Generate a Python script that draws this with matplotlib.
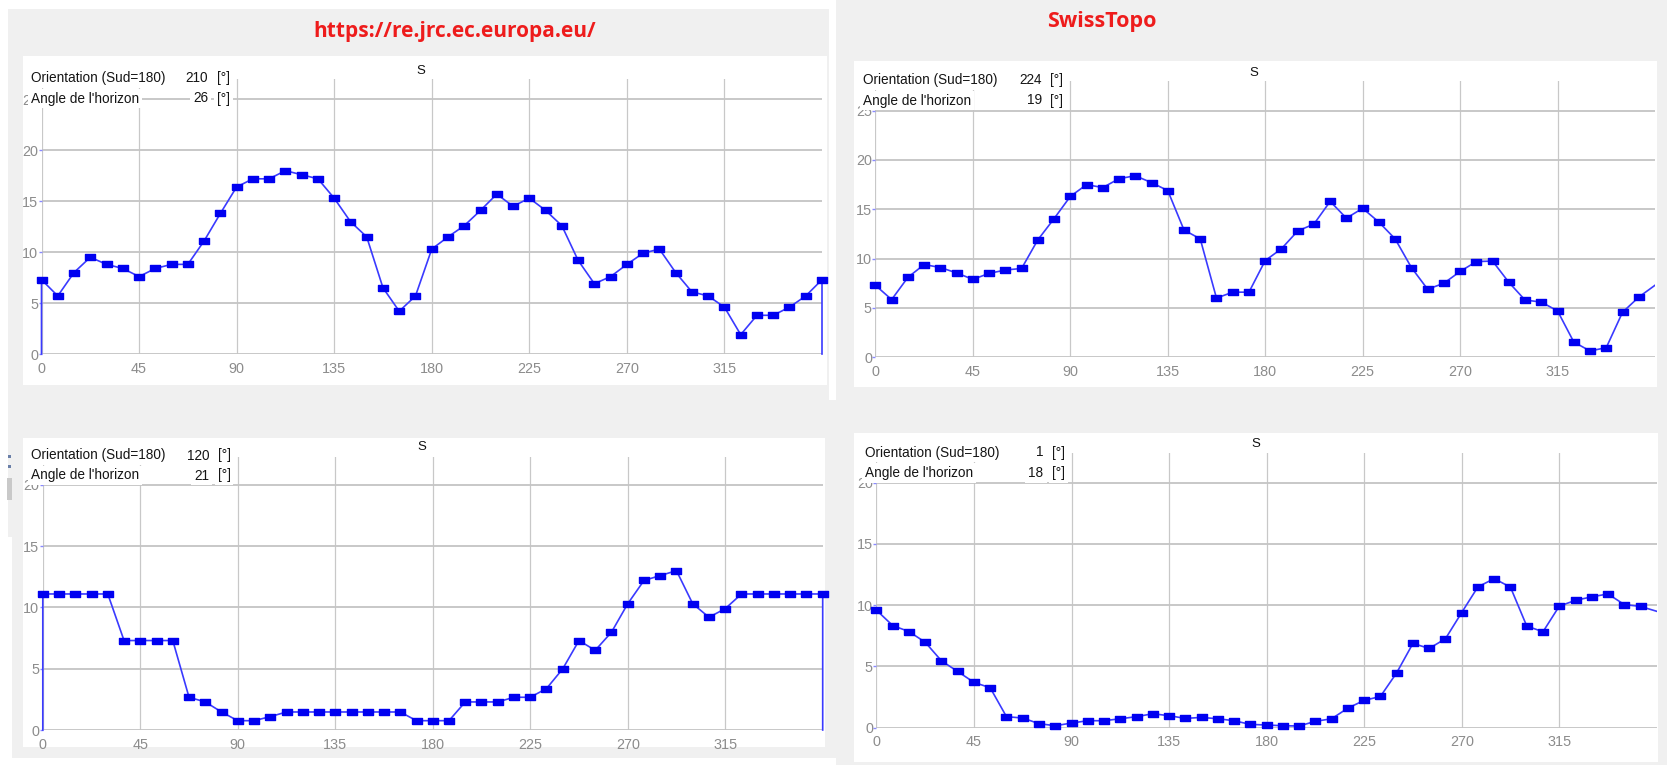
"""
Horizon profiles: PVGIS (re.jrc.ec.europa.eu) vs SwissTopo, two sites.
Each panel shows the horizon elevation angle [deg] against azimuth [deg].
"""

import matplotlib.pyplot as plt
import numpy as np
from matplotlib.patches import Rectangle

W, H = 1667, 765

# azimuth step of the profiles (0 .. 360 inclusive)
AZIMUTH = np.arange(0, 360.1, 7.5)

# site 1 (orientation 210 / 224)
JRC_SITE1 = [7.3, 5.7, 8.0, 9.5, 8.8, 8.4, 7.6, 8.4, 8.8, 8.8, 11.1, 13.8, 16.4,
             17.2, 17.2, 18.0, 17.6, 17.2, 15.3, 13.0, 11.5, 6.5, 4.2, 5.7, 10.3,
             11.5, 12.6, 14.1, 15.7, 14.5, 15.3, 14.1, 12.6, 9.2, 6.9, 7.6, 8.8,
             9.9, 10.3, 8.0, 6.1, 5.7, 4.6, 1.9, 3.8, 3.8, 4.6, 5.7, 7.3]
SWISS_SITE1 = [7.3, 5.85, 8.1, 9.4, 9.1, 8.55, 7.9, 8.5, 8.85, 9.0, 11.9, 14.05,
               16.3, 17.5, 17.2, 18.1, 18.4, 17.7, 16.9, 12.9, 12.0, 6.0, 6.6, 6.6,
               9.8, 11.0, 12.8, 13.5, 15.8, 14.1, 15.1, 13.7, 12.0, 9.1, 6.9, 7.5,
               8.7, 9.7, 9.75, 7.6, 5.8, 5.6, 4.7, 1.55, 0.64, 0.98, 4.56, 6.1, 7.3]

# site 2 (orientation 120 / 1)
JRC_SITE2 = [11.1, 11.1, 11.1, 11.1, 11.1, 7.3, 7.3, 7.3, 7.3, 2.67, 2.29, 1.47,
             0.76, 0.76, 1.09, 1.47, 1.47, 1.47, 1.47, 1.47, 1.47, 1.47, 1.47,
             0.76, 0.76, 0.76, 2.29, 2.29, 2.29, 2.67, 2.67, 3.38, 4.99, 7.3, 6.5,
             7.98, 10.3, 12.2, 12.6, 13.0, 10.3, 9.2, 9.9, 11.1, 11.1, 11.1, 11.1,
             11.1, 11.1]
SWISS_SITE2 = [9.6, 8.34, 7.85, 6.98, 5.46, 4.59, 3.7, 3.26, 0.9, 0.79, 0.33, 0.16,
               0.38, 0.57, 0.57, 0.73, 0.9, 1.14, 0.98, 0.76, 0.84, 0.73, 0.57,
               0.27, 0.22, 0.16, 0.14, 0.52, 0.73, 1.6, 2.23, 2.55, 4.48, 6.88,
               6.47, 7.26, 9.4, 11.5, 12.17, 11.47, 8.3, 7.83, 9.92, 10.4, 10.68,
               10.92, 10.05, 9.9, 9.5]

X_TICKS = [0, 45, 90, 135, 180, 225, 270, 315]

# (orientation, horizon angle) printed in each panel header
INFO = {
    "jrc1": (210, 26),
    "swiss1": (224, 19),
    "jrc2": (120, 21),
    "swiss2": (1, 18),
}

LINE_COLOR = "#3a3aff"
MARKER_COLOR = "#0000f0"
GRID_COLOR = "#c8c8c8"
TICK_COLOR = "#8c8c8c"

# wide flat square used by the profile viewer
RECT_MARKER = [(-1, -0.72), (1, -0.72), (1, 0.72), (-1, 0.72), (-1, -0.72)]

plt.rcParams["font.family"] = ["Liberation Sans", "DejaVu Sans"]


def fx(x):
    return x / W


def fy(y):
    return 1 - y / H


def px_axes(fig, left, top, right, bottom):
    return fig.add_axes([fx(left), fy(bottom), (right - left) / W, (bottom - top) / H])


def px_rect(fig, left, top, right, bottom, color, z=-1):
    fig.patches.append(
        Rectangle((fx(left), fy(bottom)), (right - left) / W, (bottom - top) / H,
                  transform=fig.transFigure, facecolor=color, edgecolor="none",
                  zorder=z)
    )


def draw_panel(fig, box, axes_px, values, ymax, yticks, closed, info, text_px):
    """box: white panel area, axes_px: data area (l, t, r, b) in pixels."""
    px_rect(fig, *box, color="white")
    ax = px_axes(fig, *axes_px)
    ax.set_facecolor("none")

    x = AZIMUTH
    y = np.asarray(values)
    if closed:
        # profile outline goes down to the axis at both ends
        ax.plot(np.r_[0, x, 360], np.r_[0, y, 0], color=LINE_COLOR, lw=1.2,
                clip_on=False, zorder=3)
        ax.plot(x, y, ls="none", marker=RECT_MARKER, ms=6.8, color=MARKER_COLOR,
                clip_on=False, zorder=4)
    else:
        ax.plot(x, y, color=LINE_COLOR, lw=1.2, zorder=3)
        ax.plot(x[:-1], y[:-1], ls="none", marker=RECT_MARKER, ms=6.8,
                color=MARKER_COLOR, clip_on=False, zorder=4)

    ax.set_xlim(0, 360)
    ax.set_ylim(0, ymax)
    ax.set_xticks(X_TICKS)
    ax.set_yticks(yticks)
    for s in ax.spines.values():
        s.set_visible(False)
    ax.set_axisbelow(True)
    ax.grid(axis="x", color=GRID_COLOR, lw=0.9)
    ax.grid(axis="y", color="#c4c4c4", lw=1.3)
    ax.tick_params(axis="y", length=2, width=1, color="#8a8aff", pad=0.5,
                   labelsize=10.4, labelcolor=TICK_COLOR)
    ax.tick_params(axis="x", length=0, pad=5.5, labelsize=10.4,
                   labelcolor=TICK_COLOR)

    # header: "S" marker and orientation / horizon angle
    s_x, s_y, left, num_right, unit_left, row1, row2 = text_px
    fig.text(fx(s_x), fy(s_y), "S", ha="center", va="center", fontsize=9.5,
             color="#111111")
    box_style = dict(facecolor="white", edgecolor="none", pad=2.2)
    orient, horizon = info
    rows = [(row1, "Orientation (Sud=180)", orient),
            (row2, "Angle de l'horizon", horizon)]
    for ry, label, val in rows:
        fig.text(fx(left), fy(ry), label, ha="left", va="center", fontsize=9.8,
                 color="#151515", bbox=box_style, zorder=5)
        fig.text(fx(num_right), fy(ry), str(val), ha="right", va="center",
                 fontsize=9.8, color="#151515", bbox=box_style, zorder=5)
        fig.text(fx(unit_left), fy(ry), "[°]", ha="left", va="center",
                 fontsize=9.8, color="#151515", bbox=box_style, zorder=5)
    return ax


def main():
    fig = plt.figure(figsize=(W / 100, H / 100), dpi=100)
    fig.patch.set_facecolor("#f0f0f0")

    # white margins of the window captures
    px_rect(fig, 0, 0, 830, 9, "white", z=-2)
    px_rect(fig, 0, 0, 8, 537, "white", z=-2)
    px_rect(fig, 0, 537, 12, 765, "white", z=-2)
    px_rect(fig, 829, 0, 836, 400, "white", z=-2)
    px_rect(fig, 12, 758, 836, 765, "white", z=-2)
    # bits of a toolbar peeking in at the left edge
    px_rect(fig, 7, 478, 12, 500, "#c9c9c9", z=-2)
    px_rect(fig, 8, 455, 11, 458, "#6a7fa8", z=-2)
    px_rect(fig, 8, 465, 11, 468, "#6a7fa8", z=-2)

    fig.text(fx(455), fy(32), "https://re.jrc.ec.europa.eu/", ha="center",
             va="center", fontsize=15, fontweight="bold", color="#ee1c1c",
             family=["Open Sans", "DejaVu Sans"])
    fig.text(fx(1102), fy(22), "SwissTopo", ha="center", va="center",
             fontsize=15.5, fontweight="bold", color="#ee1c1c",
             family=["Open Sans", "DejaVu Sans"])

    draw_panel(fig, (23, 56, 827, 385), (41.5, 79, 822, 354), JRC_SITE1, 27,
               [0, 5, 10, 15, 20, 25], True, INFO["jrc1"],
               (421, 71, 30.5, 208, 217, 78, 98.5))
    draw_panel(fig, (854, 61, 1657, 387), (875.4, 81, 1655, 357.3), SWISS_SITE1,
               28, [0, 5, 10, 15, 20, 25], False, INFO["swiss1"],
               (1254, 73, 863, 1042, 1050, 80, 100.5))
    draw_panel(fig, (23, 438, 825, 747), (42.8, 456.7, 822.7, 730), JRC_SITE2,
               22.3, [0, 5, 10, 15, 20], True, INFO["jrc2"],
               (421.5, 447, 31, 209, 217.5, 455.5, 475.5))
    draw_panel(fig, (854, 433, 1658, 762), (876.4, 453.3, 1656.8, 727.7),
               SWISS_SITE2, 22.4, [0, 5, 10, 15, 20], False, INFO["swiss2"],
               (1255.5, 444, 864.7, 1043.6, 1051.6, 452.5, 473))

    fig.savefig("out.png", dpi=100, facecolor=fig.get_facecolor())


if __name__ == "__main__":
    main()
